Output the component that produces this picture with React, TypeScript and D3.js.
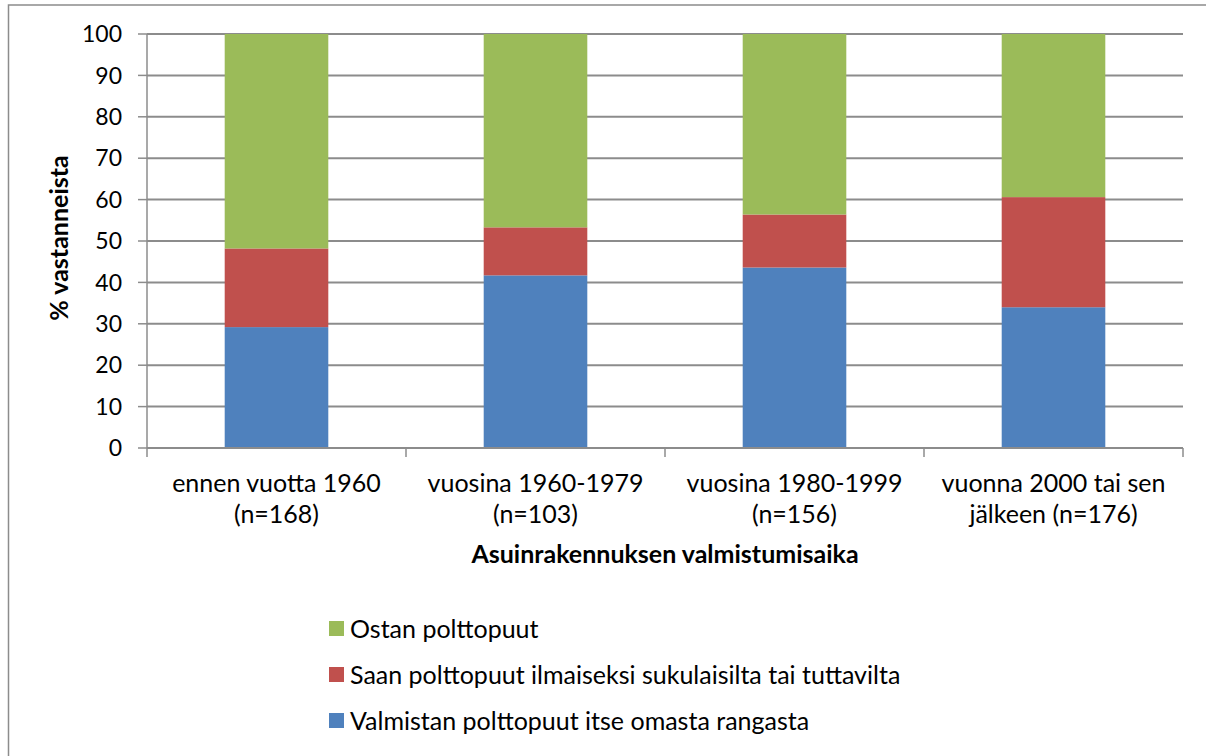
import React from "react";
import * as d3 from "d3";

const categories = [
  ["ennen vuotta 1960", "(n=168)"],
  ["vuosina 1960-1979", "(n=103)"],
  ["vuosina 1980-1999", "(n=156)"],
  ["vuonna 2000 tai sen", "jälkeen (n=176)"],
];
const seriesNames = [
  "Valmistan polttopuut itse omasta rangasta",
  "Saan polttopuut ilmaiseksi sukulaisilta tai tuttavilta",
  "Ostan polttopuut",
];
const valmistan = [29.2, 41.7, 43.6, 34.0];
const saan = [19.0, 11.6, 12.8, 26.6];
const ostan = [51.8, 46.7, 43.6, 39.4];
const colors = ["#4F81BD", "#C0504D", "#9BBB59"];
const yTicks = [0, 10, 20, 30, 40, 50, 60, 70, 80, 90, 100];
const yTitle = "% vastanneista";
const xTitle = "Asuinrakennuksen valmistumisaika";

const FONT = "Lato, 'Open Sans', sans-serif";

export default function App() {
  const W = 1206, H = 756;
  const left = 147, right = 1183, top = 34, bottom = 448;
  const x = d3.scaleBand<number>().domain(d3.range(categories.length)).range([left, right]).paddingInner(0.6).paddingOuter(0.3);
  const xb = d3.scaleBand<number>().domain(d3.range(categories.length)).range([left, right]);
  const y = d3.scaleLinear().domain([0, 100]).range([bottom, top]);
  const data = categories.map((_, i) => ({ a: valmistan[i], b: saan[i], c: ostan[i] }));
  const stack = d3.stack<any>().keys(["a", "b", "c"])(data);

  return (
    <svg width={W} height={H} style={{ position: "absolute", left: 0, top: 0 }}>
      <rect x={0} y={0} width={W} height={H} fill="#fff" />
      <rect x={8.5} y={5} width={W + 10} height={H + 10} fill="none" stroke="#8c8c8c" strokeWidth={1.5} />
      {yTicks.map((t) => (
        <g key={t}>
          {t > 0 && <line x1={left} x2={right} y1={y(t)} y2={y(t)} stroke="#8c8c8c" strokeWidth={2} />}
          <line x1={left - 9} x2={left} y1={y(t)} y2={y(t)} stroke="#8c8c8c" strokeWidth={1.5} />
          <text x={122} y={y(t)} dy="0.36em" textAnchor="end" fontFamily={FONT} fontSize={23} fill="#000">{t}</text>
        </g>
      ))}
      {stack.map((s, si) =>
        s.map((d, i) => (
          <rect key={si + "-" + i} x={x(i)} width={x.bandwidth()} y={y(d[1])} height={y(d[0]) - y(d[1])} fill={colors[si]} />
        ))
      )}
      <line x1={left} x2={left} y1={top} y2={bottom} stroke="#8c8c8c" strokeWidth={1.5} />
      <line x1={left} x2={right} y1={bottom} y2={bottom} stroke="#8c8c8c" strokeWidth={2} />
      {d3.range(categories.length + 1).map((i) => {
        const xx = i < categories.length ? (xb(i) as number) : right;
        return <line key={i} x1={xx} x2={xx} y1={bottom} y2={bottom + 9} stroke="#8c8c8c" strokeWidth={1.5} />;
      })}
      {categories.map((c, i) => (
        <text key={i} x={(xb(i) as number) + xb.bandwidth() / 2} textAnchor="middle" fontFamily={FONT} fontSize={25} fill="#000">
          <tspan x={(xb(i) as number) + xb.bandwidth() / 2} y={492}>{c[0]}</tspan>
          <tspan x={(xb(i) as number) + xb.bandwidth() / 2} y={523}>{c[1]}</tspan>
        </text>
      ))}
      <text x={665} y={563} textAnchor="middle" fontFamily={FONT} fontSize={25} fontWeight="bold" fill="#000">{xTitle}</text>
      <text transform={`translate(68,238) rotate(-90)`} textAnchor="middle" fontFamily={FONT} fontSize={25} fontWeight="bold" fill="#000">{yTitle}</text>
      {[2, 1, 0].map((si, k) => (
        <g key={si}>
          <rect x={329} y={621 + k * 46} width={15} height={15} fill={colors[si]} />
          <text x={350} y={638 + k * 46} fontFamily={FONT} fontSize={25} fill="#000">{seriesNames[si]}</text>
        </g>
      ))}
    </svg>
  );
}
